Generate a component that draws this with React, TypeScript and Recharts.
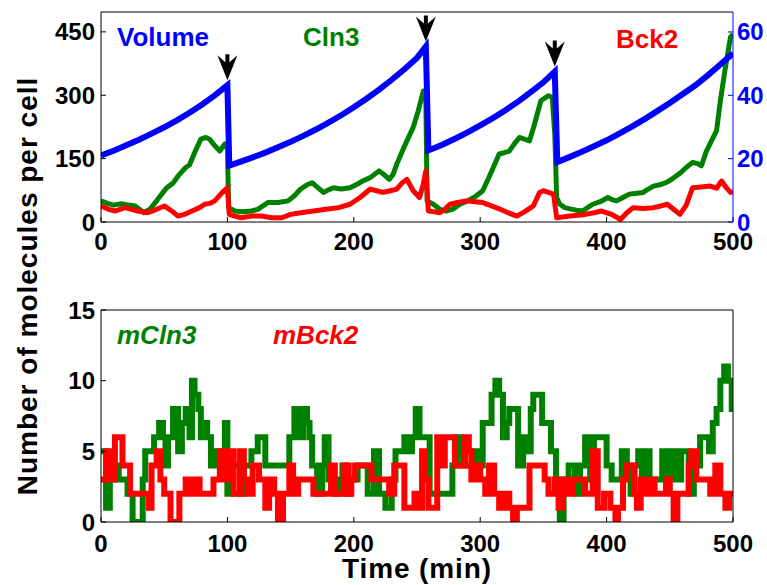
import React from "react";
import { LineChart, Line, XAxis, YAxis, ReferenceDot } from "recharts";

// axis ticks
const timeTicks = [0, 100, 200, 300, 400, 500];
const innerTimeTicks = [100, 200, 300, 400];
const proteinTicks = [0, 150, 300, 450];
const volumeTicks = [0, 20, 40, 60];
const mrnaTicks = [0, 5, 10, 15];

// top panel: [time (min), value]
const volume: [number, number][] = [
  [0, 21.0], [10, 22.5], [20, 24.2], [30, 26.0], [40, 27.9], [50, 29.9], [60, 32.1],
  [70, 34.5], [80, 37.1], [90, 40.0], [100, 43.2], [101.5, 17.8], [110, 19.0],
  [120, 20.4], [130, 21.9], [140, 23.6], [150, 25.3], [160, 27.2], [170, 29.2],
  [180, 31.4], [190, 33.7], [200, 36.2], [210, 38.9], [220, 41.8], [230, 44.9],
  [240, 48.2], [250, 51.8], [257, 55.4], [259, 22.6], [270, 24.4], [280, 26.3],
  [290, 28.3], [300, 30.5], [310, 32.8], [320, 35.3], [330, 38.0], [340, 41.0],
  [350, 44.1], [359, 47.5], [361, 18.9], [370, 20.4], [380, 22.1], [390, 23.9],
  [400, 25.8], [410, 27.9], [420, 30.1], [430, 32.5], [440, 35.0], [450, 37.6],
  [460, 40.3], [470, 43.1], [480, 46.3], [490, 49.7], [500, 53.3],
];

const cln3: [number, number][] = [
  [0, 50], [5, 44], [10, 40], [16, 43], [22, 40], [27, 38], [34, 22], [39, 31], [44, 50],
  [48, 66], [52, 81], [57, 92], [61, 109], [67, 129], [70, 135], [74, 164], [79, 196],
  [83, 200], [86, 196], [89, 184], [94, 168], [98, 185], [100, 180], [101, 34], [106, 26],
  [112, 24], [119, 26], [124, 30], [132, 46], [140, 46], [148, 50], [153, 62], [158, 78],
  [163, 88], [167, 93], [172, 80], [176, 70], [180, 76], [184, 81], [190, 78], [197, 81],
  [203, 90], [207, 97], [213, 105], [220, 121], [224, 112], [228, 101], [231, 112],
  [234, 137], [238, 165], [242, 192], [247, 224], [251, 263], [255, 310], [257, 295],
  [258, 50], [263, 42], [268, 30], [273, 26], [278, 30], [284, 42], [290, 50], [297, 62],
  [302, 74], [308, 113], [312, 140], [315, 161], [319, 164], [323, 168], [327, 185],
  [331, 200], [335, 196], [339, 192], [343, 232], [348, 287], [354, 299], [357, 295],
  [359, 208], [360.5, 58], [363, 42], [367, 34], [371, 31], [376, 28], [381, 26],
  [385, 34], [389, 42], [395, 48], [401, 58], [405, 52], [408, 50], [413, 58], [418, 66],
  [424, 68], [429, 70], [433, 78], [437, 85], [442, 88], [447, 93], [451, 100], [455, 109],
  [459, 118], [463, 129], [468, 141], [472, 138], [475, 133], [479, 168], [483, 192],
  [487, 216], [490, 287], [494, 366], [498, 437], [500, 445],
];

const bck2: [number, number][] = [
  [0, 38], [6, 30], [11, 26], [15, 30], [19, 34], [24, 30], [29, 26], [37, 22], [44, 30],
  [50, 38], [56, 26], [61, 14], [66, 18], [72, 26], [78, 34], [82, 42], [86, 44], [90, 50],
  [96, 70], [100, 81], [101.5, 18], [106, 14], [111, 10], [119, 14], [127, 14], [135, 10],
  [143, 10], [150, 18], [158, 22], [168, 26], [178, 30], [188, 34], [197, 42], [205, 58],
  [213, 78], [218, 74], [223, 70], [229, 74], [234, 78], [238, 92], [242, 101], [247, 74],
  [252, 58], [255, 90], [257, 121], [259, 26], [264, 24], [268, 22], [272, 30], [276, 42],
  [282, 46], [289, 50], [296, 48], [302, 46], [309, 38], [316, 30], [322, 22], [329, 14],
  [335, 24], [342, 38], [347, 70], [350, 74], [354, 70], [358, 66], [360.5, 10],
  [365, 12], [371, 14], [377, 16], [383, 18], [390, 22], [396, 26], [404, 18], [411, 6],
  [416, 22], [421, 34], [429, 32], [437, 34], [443, 38], [448, 42], [453, 30], [458, 18],
  [463, 40], [468, 81], [475, 83], [482, 85], [487, 80], [491, 97], [495, 80], [498, 70],
  [500, 72],
];

// division events marked with arrows
const divisionTimes = [100, 257, 359];
const divisionVolumes = [43.2, 55.4, 47.5];

// bottom panel: mRNA counts, [time where value starts, count]
const mCln3: [number, number][] = [
  [0, 5], [4, 1], [7, 3], [10, 4], [14, 3], [21, 2], [25, 0], [33, 3], [35, 5], [42, 6],
  [46, 7], [49, 6], [51, 4], [53, 6], [57, 8], [61, 5], [64, 7], [67, 8], [70, 6], [72, 10],
  [74, 9], [77, 8], [79, 6], [81, 7], [84, 6], [87, 4], [91, 5], [95, 4], [98, 7], [100, 2],
  [104, 4], [110, 2], [113, 4], [119, 5], [124, 6], [130, 4], [149, 6], [153, 8], [157, 6],
  [160, 8], [163, 7], [165, 6], [167, 4], [171, 2], [175, 4], [177, 6], [180, 3], [185, 2],
  [188, 3], [191, 4], [194, 2], [197, 3], [203, 4], [211, 2], [216, 5], [220, 2], [225, 1],
  [230, 3], [233, 5], [240, 6], [243, 5], [246, 6], [249, 8], [252, 6], [260, 2], [278, 4],
  [281, 6], [285, 4], [294, 5], [298, 4], [302, 7], [309, 9], [312, 10], [315, 9], [318, 6],
  [321, 7], [323, 8], [330, 4], [334, 6], [337, 5], [340, 8], [342, 9], [349, 7], [356, 5],
  [360, 3], [363, 0], [366, 3], [370, 4], [375, 2], [379, 4], [383, 6], [387, 3], [390, 6],
  [400, 4], [404, 3], [412, 5], [416, 4], [419, 2], [422, 4], [425, 5], [428, 3], [431, 5],
  [434, 3], [444, 5], [447, 3], [451, 5], [455, 3], [459, 5], [465, 2], [469, 4], [474, 6],
  [481, 5], [484, 7], [487, 8], [490, 10], [493, 11], [496, 10], [499, 8], [500, 8],
];

const mBck2: [number, number][] = [
  [0, 3], [4, 5], [7, 3], [11, 6], [17, 4], [23, 2], [38, 1], [40, 4], [44, 5], [47, 3],
  [50, 2], [55, 0], [62, 2], [67, 3], [71, 2], [75, 3], [78, 2], [89, 3], [94, 5], [98, 3],
  [102, 5], [105, 2], [110, 5], [113, 3], [116, 2], [120, 4], [125, 3], [130, 1], [133, 3],
  [137, 2], [140, 0], [144, 2], [149, 4], [152, 2], [156, 3], [168, 2], [182, 4], [185, 2],
  [192, 4], [196, 2], [198, 3], [201, 4], [214, 3], [228, 2], [232, 4], [240, 1], [248, 2],
  [251, 1], [254, 5], [256, 3], [259, 1], [266, 6], [270, 4], [272, 6], [280, 4], [288, 6],
  [291, 5], [293, 3], [296, 4], [300, 3], [304, 2], [307, 4], [311, 2], [315, 1], [319, 2],
  [323, 1], [326, 0], [329, 1], [339, 4], [351, 3], [354, 2], [359, 3], [362, 1], [365, 3],
  [370, 2], [373, 3], [383, 2], [389, 5], [393, 1], [398, 2], [403, 1], [407, 0], [409, 1],
  [413, 3], [416, 4], [422, 2], [424, 1], [427, 3], [431, 2], [435, 3], [438, 2], [447, 3],
  [450, 2], [453, 0], [456, 2], [465, 4], [467, 5], [471, 3], [482, 2], [486, 4], [490, 2],
  [494, 1], [497, 2], [500, 2],
];

const BLUE = "#0000ff";
const GREEN = "#008000";
const RED = "#ff0000";
const FONT = "'Liberation Sans', Arial, Helvetica, sans-serif";

const rows = (pts: [number, number][]) => pts.map(([t, v]) => ({ t, v }));
const tickFont = { fontSize: 24, fontWeight: 700, fill: "#000" };

function DivisionArrow(props: any) {
  const { cx, cy } = props;
  if (cx == null || cy == null) return null;
  const y = cy - 5;
  return (
    <path
      d={`M${cx},${y} L${cx - 10},${y - 25} L${cx - 2},${y - 18} L${cx - 2},${y - 26} L${cx + 2},${y - 26} L${cx + 2},${y - 18} L${cx + 10},${y - 25} Z`}
      fill="#000"
    />
  );
}

function TopPanel() {
  return (
    <LineChart width={767} height={280} margin={{ top: 11, right: 0, bottom: 0, left: 0 }}>
      <XAxis xAxisId="b" type="number" dataKey="t" domain={[0, 500]} allowDataOverflow ticks={timeTicks}
        interval={0} height={58} tickSize={-5} tickMargin={16} stroke="#000" tick={tickFont} />
      <XAxis xAxisId="t" orientation="top" type="number" dataKey="t" domain={[0, 500]} allowDataOverflow
        ticks={innerTimeTicks} interval={0} height={1} tickSize={-5} tick={false} stroke="#000" />
      <YAxis yAxisId="l" domain={[0, 497]} allowDataOverflow ticks={proteinTicks} interval={0} width={101}
        tickSize={-5} tickMargin={11} stroke="#000" tick={tickFont} />
      <YAxis yAxisId="r" orientation="right" domain={[0, 66.3]} allowDataOverflow ticks={volumeTicks}
        interval={0} width={34} tickSize={-5} tickMargin={9} stroke={BLUE} tick={{ ...tickFont, fill: BLUE }} />
      <Line xAxisId="b" yAxisId="l" data={rows(cln3)} dataKey="v" stroke={GREEN} strokeWidth={5}
        strokeLinejoin="round" dot={false} isAnimationActive={false} />
      <Line xAxisId="b" yAxisId="l" data={rows(bck2)} dataKey="v" stroke={RED} strokeWidth={5}
        strokeLinejoin="round" dot={false} isAnimationActive={false} />
      <Line xAxisId="b" yAxisId="r" data={rows(volume)} dataKey="v" stroke={BLUE} strokeWidth={6}
        dot={false} isAnimationActive={false} />
      {divisionTimes.map((t, i) => (
        <ReferenceDot key={t} xAxisId="b" yAxisId="r" x={t} y={divisionVolumes[i]} r={1}
          shape={DivisionArrow} />
      ))}
    </LineChart>
  );
}

function BottomPanel() {
  return (
    <LineChart width={767} height={305} margin={{ top: 29, right: 0, bottom: 0, left: 0 }}>
      <XAxis xAxisId="b" type="number" dataKey="t" domain={[0, 500]} allowDataOverflow ticks={timeTicks}
        interval={0} height={63} tickSize={-5} tickMargin={18} stroke="#000" tick={tickFont} />
      <XAxis xAxisId="t" orientation="top" type="number" dataKey="t" domain={[0, 500]} allowDataOverflow
        ticks={innerTimeTicks} interval={0} height={1} tickSize={-5} tick={false} stroke="#000" />
      <YAxis yAxisId="l" domain={[0, 15]} allowDataOverflow ticks={mrnaTicks} interval={0} width={101}
        tickSize={-5} tickMargin={11} stroke="#000" tick={tickFont} />
      <YAxis yAxisId="r" orientation="right" domain={[0, 15]} allowDataOverflow ticks={mrnaTicks}
        interval={0} width={34} tickSize={-5} tick={false} stroke="#000" />
      <Line xAxisId="b" yAxisId="l" type="stepAfter" data={rows(mCln3)} dataKey="v" stroke={GREEN}
        strokeWidth={6} dot={false} isAnimationActive={false} />
      <Line xAxisId="b" yAxisId="l" type="stepAfter" data={rows(mBck2)} dataKey="v" stroke={RED}
        strokeWidth={6} dot={false} isAnimationActive={false} />
    </LineChart>
  );
}

export default function App() {
  const label = { fontFamily: FONT, fontWeight: 700, fontSize: 26 } as const;
  return (
    <div style={{ position: "absolute", left: 0, top: 0, width: 767, height: 585, background: "#fff", fontFamily: FONT }}>
      <div style={{ position: "absolute", left: 0, top: 0 }}>
        <TopPanel />
      </div>
      <div style={{ position: "absolute", left: 0, top: 280 }}>
        <BottomPanel />
      </div>
      <svg width={767} height={585} style={{ position: "absolute", left: 0, top: 0, pointerEvents: "none" }}>
        <text x={117} y={46} fill={BLUE} {...label}>Volume</text>
        <text x={303} y={46} fill={GREEN} {...label}>Cln3</text>
        <text x={616} y={48} fill={RED} {...label}>Bck2</text>
        <text x={117} y={344} fill={GREEN} {...label} fontStyle="italic">mCln3</text>
        <text x={273} y={344} fill={RED} {...label} fontStyle="italic">mBck2</text>
        <text x={417} y={578} textAnchor="middle" fill="#000" {...label} fontSize={28} letterSpacing={0.9}>
          Time (min)
        </text>
        <text transform="translate(37,286) rotate(-90)" textAnchor="middle" fill="#000" {...label}
          fontSize={28} letterSpacing={1}>
          Number of molecules per cell
        </text>
      </svg>
    </div>
  );
}
